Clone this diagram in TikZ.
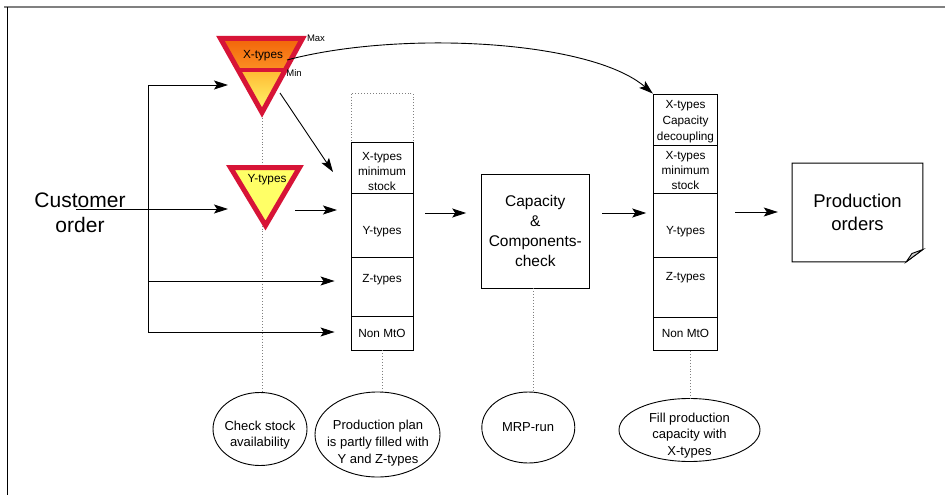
\documentclass[tikz,border=0pt]{standalone}
\usepackage{fontspec}
\setmainfont{Liberation Sans}
\usetikzlibrary{arrows.meta,shapes.geometric}

\definecolor{xred}{RGB}{215,20,55}
\definecolor{orangeD}{RGB}{242,100,10}
\definecolor{orangeL}{RGB}{252,145,35}
\definecolor{yellowD}{RGB}{255,185,50}
\definecolor{yellowL}{RGB}{255,250,110}
\definecolor{yfill}{RGB}{255,255,102}

\begin{document}
\begin{tikzpicture}[x=1pt,y=-1pt,
  ln/.style={line width=0.9pt},
  arr/.style={ln,-{Stealth[length=14pt,width=9pt,inset=3pt]}},
  guide/.style={dotted,line width=0.9pt,gray},
  cell/.style={draw,ln,inner sep=0pt},
  cellA/.style={cell,minimum width=62pt},
  cellB/.style={cell,minimum width=64.4pt},
  small/.style={font=\fontsize{11.8}{15}\selectfont,align=center,inner sep=0pt},
  oval/.style={draw,ln,ellipse,inner sep=0pt},
  ovaltxt/.style={font=\fontsize{13}{16.7}\selectfont,align=center,inner sep=0pt},
  border/.style={xred,line width=5pt,line join=miter}]

% canvas and frame
\useasboundingbox (0,0) rectangle (945,495);
\fill[white] (0,0) rectangle (945,495);
\draw[gray,line width=2.5pt] (4,7) -- (945,7);
\draw[line width=0.8pt] (7,7) -- (7,495);

% ---------- triangles ----------
\coordinate (xa) at (220.5,38.5);
\coordinate (xb) at (302.5,38.5);
\coordinate (xc) at (262,112.5);
\coordinate (xl) at (238.2,70);
\coordinate (xr) at (285.3,70);

\coordinate (ya) at (230.5,167.5);
\coordinate (yb) at (299.5,167.5);
\coordinate (yc) at (265.5,225.5);

% ---------- bottom ellipses ----------
\node[oval,minimum width=94pt,minimum height=73pt] (chk) at (260,429) {};
\node[oval,minimum width=125pt,minimum height=85pt] (plan) at (377.5,434.5) {};
\node[oval,minimum width=93pt,minimum height=71pt] (mrp) at (528.3,427.5) {};
\node[oval,minimum width=141pt,minimum height=63pt] (fillx) at (689.5,430) {};
\node[ovaltxt] (tchk) at (260,435) {Check stock\\availability};
\node[ovaltxt] (tplan) at (378,443.3) {Production plan\\is partly filled with\\Y and Z-types};
\node[ovaltxt] (tmrp) at (528,426.7) {MRP-run};
\node[ovaltxt] (tfill) at (689.5,435.5) {Fill production\\capacity with\\X-types};

% dotted guide behind the stock buffers
\draw[guide] (xc) -- (xc |- chk.north);

% X-type buffer
\shade[top color=orangeD,bottom color=orangeL] (xa) -- (xb) -- (xr) -- (xl) -- cycle;
\shade[top color=yellowD,bottom color=yellowL] (xl) -- (xr) -- (xc) -- cycle;
\draw[border] (xa) -- (xb) -- (xc) -- cycle;
\draw[xred,line width=4.5pt] (xl) -- (xr);
\node[font=\fontsize{11.8}{14}\selectfont,inner sep=0pt] (xtxt) at (263,56) {X-types};
\node[font=\fontsize{9.5}{11}\selectfont,inner sep=0pt] (xmax) at (316,38) {Max};
\node[font=\fontsize{9.5}{11}\selectfont,inner sep=0pt] (xmin) at (294,73) {Min};

% Y-type buffer
\fill[yfill] (ya) -- (yb) -- (yc) -- cycle;
\draw[border] (ya) -- (yb) -- (yc) -- cycle;
\node[font=\fontsize{11.8}{14}\selectfont,inner sep=0pt] (ytxt) at (267,180) {Y-types};

% ---------- customer order ----------
\node[font=\fontsize{21}{25}\selectfont,align=center,inner sep=0pt] (cust) at (80,213) {Customer\\order};

% ---------- production plan stack ----------
\node[cellA,draw=gray,dotted,minimum height=49.4pt] (s1top) at (382,118) {};
\node[cellA,minimum height=50.6pt] (s1x) at (382,168) {};
\node[cellA,minimum height=64pt] (s1y) at (382,225.3) {};
\node[cellA,minimum height=59.4pt] (s1z) at (382,287) {};
\node[cellA,minimum height=33.3pt] (s1n) at (382,333.3) {};
\node[small] (t1x) at (382,171) {X-types\\minimum\\stock};
\node[small] (t1y) at (382,231.7) {Y-types};
\node[small] (t1z) at (382,280) {Z-types};
\node[small] (t1n) at (382,333) {Non MtO};

% ---------- capacity check ----------
\node[draw,ln,minimum width=107.3pt,minimum height=114pt,align=center,
      font=\fontsize{15.5}{20}\selectfont] (cap) at (535.3,231)
      {Capacity\\\&\\Components-\\check};

% ---------- filled plan stack ----------
\node[cellB,minimum height=51pt] (s2c) at (685.5,119.5) {};
\node[cellB,minimum height=48.3pt] (s2x) at (685.5,169.2) {};
\node[cellB,minimum height=64pt] (s2y) at (685.5,225.3) {};
\node[cellB,minimum height=60pt] (s2z) at (685.5,287.3) {};
\node[cellB,minimum height=33.4pt] (s2n) at (685.5,334) {};
\node[small,font=\fontsize{11.8}{16}\selectfont] (t2c) at (685.5,121.7) {X-types\\Capacity\\decoupling};
\node[small] (t2x) at (685.5,170.5) {X-types\\minimum\\stock};
\node[small] (t2y) at (685.5,231.7) {Y-types};
\node[small] (t2z) at (685.5,278) {Z-types};
\node[small] (t2n) at (685.5,333) {Non MtO};

% ---------- production orders document ----------
\node[minimum width=130.4pt,minimum height=98.4pt,align=center,
      font=\fontsize{18.5}{23.7}\selectfont] (prod) at (857.5,212.5)
      {Production\\orders};
\draw[ln] (prod.north west) -- (prod.north east)
  -- ([yshift=12.4pt]prod.south east) -- ([xshift=-16.7pt]prod.south east)
  -- (prod.south west) -- cycle;
\draw[ln,fill=gray!40] ([yshift=12.4pt]prod.south east)
  -- ([xshift=-16.7pt]prod.south east)
  -- ([xshift=-11pt,yshift=8.4pt]prod.south east) -- cycle;

% ---------- dotted guides to the ellipses ----------
\draw[guide] (s1n.south) -- (s1n.south |- plan.north);
\draw[guide] ([xshift=-2pt]cap.south) -- ([xshift=-2pt]cap.south |- mrp.north);
\draw[guide] ([xshift=4.5pt]s2n.south) -- ([xshift=4.5pt]s2n.south |- fillx.north);

% ---------- order flow ----------
\coordinate (busT) at (148,85);
\coordinate (busZ) at (148,281);
\coordinate (busB) at (148,332);
\coordinate (xin) at (228,85);
\coordinate (cin) at (76,209);
\coordinate (yin) at (228,209);
\draw[ln] (busT) -- (busB);
\draw[arr] (busT) -- (xin);
\draw[arr] (cin) -- (yin);
\draw[arr,shorten >=16pt] (busZ) -- (busZ -| s1z.west);
\draw[arr,shorten >=16pt] (busB) -- (busB -| s1n.west);

\coordinate (xout) at (280,93);
\coordinate (xs1) at (333,172);
\coordinate (yout) at (295,210);
\coordinate (ys1) at (337,210);
\draw[arr] (xout) -- (xs1);
\draw[arr] (yout) -- (ys1);

\coordinate (xcurve) at (287,60);
\draw[arr] (xcurve) .. controls (400,30) and (590,40) .. (s2c.north west);

\draw[arr,shorten <=12pt,shorten >=15pt] (s1y.east |- 0,213) -- (cap.west |- 0,213);
\draw[arr,shorten <=12.7pt,shorten >=6.6pt] (cap.east |- 0,213) -- (s2y.west |- 0,213);
\draw[arr,shorten <=17.3pt,shorten >=14.3pt] (s2y.east |- 0,212) -- (prod.west |- 0,212);

\end{tikzpicture}
\end{document}
